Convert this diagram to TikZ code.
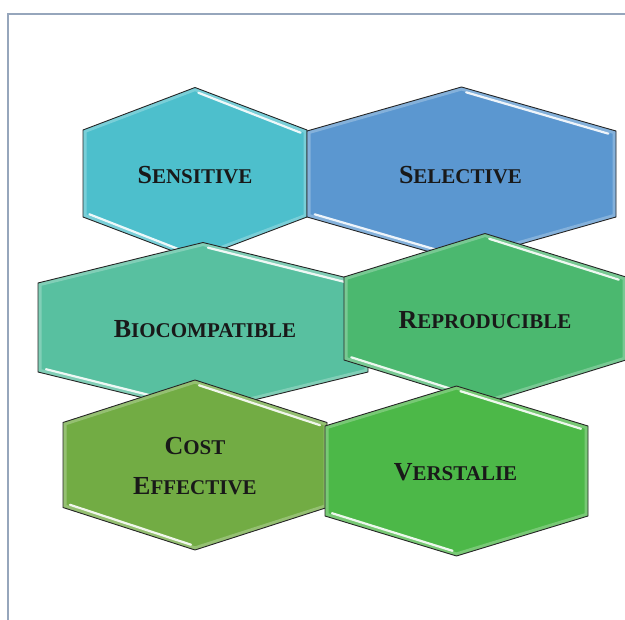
\documentclass[tikz,border=0pt]{standalone}
\usepackage{fontspec}
\setmainfont{Liberation Serif}
\usepackage{xcolor}
\usepackage{tikz}
\usetikzlibrary{calc,positioning}

\definecolor{framecol}{RGB}{150,166,188}
\definecolor{senscol}{RGB}{77,191,204}
\definecolor{selcol}{RGB}{91,151,208}
\definecolor{biocol}{RGB}{88,192,160}
\definecolor{repcol}{RGB}{75,184,111}
\definecolor{costcol}{RGB}{114,172,68}
\definecolor{verscol}{RGB}{76,184,72}

% big first letter, the rest a bit smaller
\newcommand{\bigini}[1]{{\fontsize{26}{26}\selectfont #1}}

% one bevelled hexagon: name, cx, cy, half width, half height, half side, colour
\newcommand{\hexcell}[7]{%
  \path (#2-#4,#3-#6) coordinate (#1-ul)
        (#2,#3-#5)    coordinate (#1-t)
        (#2+#4,#3-#6) coordinate (#1-ur)
        (#2+#4,#3+#6) coordinate (#1-lr)
        (#2,#3+#5)    coordinate (#1-b)
        (#2-#4,#3+#6) coordinate (#1-ll)
        (#2,#3)       coordinate (#1);
  \fill[#7] (#1-ul) -- (#1-t) -- (#1-ur) -- (#1-lr) -- (#1-b) -- (#1-ll) -- cycle;
  \begin{scope}
    \clip (#1-ul) -- (#1-t) -- (#1-ur) -- (#1-lr) -- (#1-b) -- (#1-ll) -- cycle;
    \draw[white,opacity=.25,line width=7pt]
      (#1-ul) -- (#1-t) -- (#1-ur) -- (#1-lr) -- (#1-b) -- (#1-ll) -- cycle;
  \end{scope}
  \draw[shine] ($(#1-t)!.03!(#1-ur)+(0,4)$) -- ($(#1-t)!.97!(#1-ur)+(-3,4)$);
  \draw[shine] ($(#1-ll)!.03!(#1-b)+(3,-4)$) -- ($(#1-ll)!.97!(#1-b)+(0,-4)$);
  \draw[edge] (#1-ul) -- (#1-t) -- (#1-ur) -- (#1-lr) -- (#1-b) -- (#1-ll) -- cycle;
}

\begin{document}
\begin{tikzpicture}[x=1pt,y=-1pt,
    edge/.style={black!85,line width=.9pt,line join=miter},
    shine/.style={white,line width=2.2pt,line cap=round,opacity=.9},
    hexlabel/.style={font=\bfseries\fontsize{21}{21}\selectfont,text=black!90,
      align=center,inner sep=0pt}]
  \useasboundingbox (0,0) rectangle (625,620);
  \fill[white] (0,0) rectangle (625,620);
  \draw[framecol,line width=1.2pt] (8,620) -- (8,14) -- (625,14);

  % top row
  \hexcell{sens}{195}{173.5}{112}{86}{43.5}{senscol}
  \hexcell{sel}{461.5}{174}{154.5}{87}{43}{selcol}
  % middle row
  \hexcell{bio}{203}{327.5}{165}{85}{44.5}{biocol}
  \hexcell{rep}{485}{318.5}{141}{85}{41.5}{repcol}
  % bottom row
  \hexcell{cost}{195}{465}{132}{85}{42.5}{costcol}
  \hexcell{vers}{456.5}{471}{131.5}{85}{45}{verscol}

  \node[hexlabel] (sens-l) at ($(sens)+(0,1.5)$) {\bigini{S}ENSITIVE};
  \node[hexlabel] (sel-l) at ($(sel)+(-1,1)$) {\bigini{S}ELECTIVE};
  \node[hexlabel] (bio-l) at ($(bio)+(2,1.5)$) {\bigini{B}IOCOMPATIBLE};
  \node[hexlabel] (rep-l) at ($(rep)+(0,1.5)$) {\bigini{R}EPRODUCIBLE};
  \node[hexlabel] (cost-l) at ($(cost)+(0,1.5)$) {\bigini{C}OST\\[19pt]\bigini{E}FFECTIVE};
  \node[hexlabel] (vers-l) at ($(vers)+(-1,1)$) {\bigini{V}ERSTALIE};
\end{tikzpicture}
\end{document}
